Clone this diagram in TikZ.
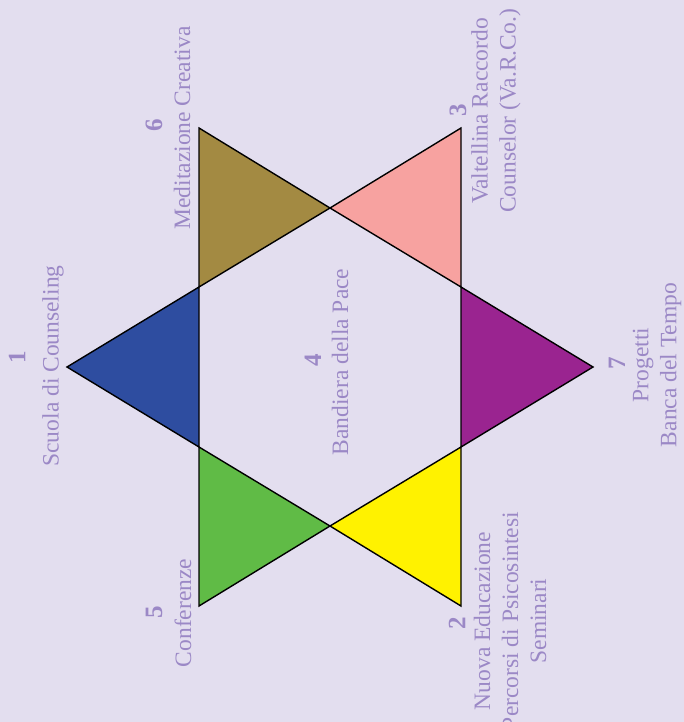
\documentclass[tikz,border=0pt]{standalone}
\usepackage{fontspec}
\setmainfont{Liberation Serif}
\definecolor{bg}{HTML}{E3DEEF}
\definecolor{txt}{HTML}{9B88C6}
\definecolor{cblue}{HTML}{2E4DA0}
\definecolor{cbrown}{HTML}{A38A42}
\definecolor{cpink}{HTML}{F7A2A0}
\definecolor{cpurple}{HTML}{9A2490}
\definecolor{cyellow}{HTML}{FFF200}
\definecolor{cgreen}{HTML}{60BB46}
\begin{document}
\begin{tikzpicture}[x=1pt,y=-1pt,
  tri/.style={draw=black,line width=1.4pt,line join=miter},
  lab/.style={text=txt,rotate=90,anchor=center,inner sep=0pt,font=\fontsize{23.5}{28}\selectfont,align=center},
  num/.style={text=txt,rotate=90,anchor=center,inner sep=0pt,font=\fontsize{25}{28}\selectfont\bfseries}]
\fill[bg] (0,0) rectangle (684,722);
\useasboundingbox (0,0) rectangle (684,722);
% outer points
\coordinate (L) at (67,367);
\coordinate (R) at (593,367);
\coordinate (TL) at (199,128);
\coordinate (TR) at (461,128);
\coordinate (BL) at (199,606);
\coordinate (BR) at (461,606);
% inner hexagon
\coordinate (h1) at (199,287);
\coordinate (h2) at (330,208);
\coordinate (h3) at (461,287);
\coordinate (h4) at (461,447);
\coordinate (h5) at (330,526);
\coordinate (h6) at (199,447);
\filldraw[tri,fill=cblue] (L) -- (h1) -- (h6) -- cycle;
\filldraw[tri,fill=cbrown] (TL) -- (h2) -- (h1) -- cycle;
\filldraw[tri,fill=cpink] (TR) -- (h3) -- (h2) -- cycle;
\filldraw[tri,fill=cpurple] (R) -- (h4) -- (h3) -- cycle;
\filldraw[tri,fill=cyellow] (BR) -- (h5) -- (h4) -- cycle;
\filldraw[tri,fill=cgreen] (BL) -- (h6) -- (h5) -- cycle;
% labels
\node[num] (n1) at (17,357) {1};
\node[lab] (t1) at (53,366) {Scuola di Counseling};
\node[num] (n6) at (154,125) {6};
\node[lab] (t6) at (182,128) {Meditazione Creativa};
\node[num] (n3) at (458,110) {3};
\node[lab] (t3) at (496,111) {Valtellina Raccordo\\Counselor (Va.R.Co.)};
\node[num] (n4) at (313,360) {4};
\node[lab] (t4) at (340,362) {Bandiera della Pace};
\node[num] (n7) at (617,363) {7};
\node[lab] (t7) at (657,365) {Progetti\\Banca del Tempo};
\node[num] (n5) at (154,612) {5};
\node[lab] (t5) at (183,613) {Conferenze};
\node[num] (n2) at (457,623) {2};
\node[lab] (t2) at (510,621) {Nuova Educazione\\Percorsi di Psicosintesi\\Seminari};
\end{tikzpicture}
\end{document}
